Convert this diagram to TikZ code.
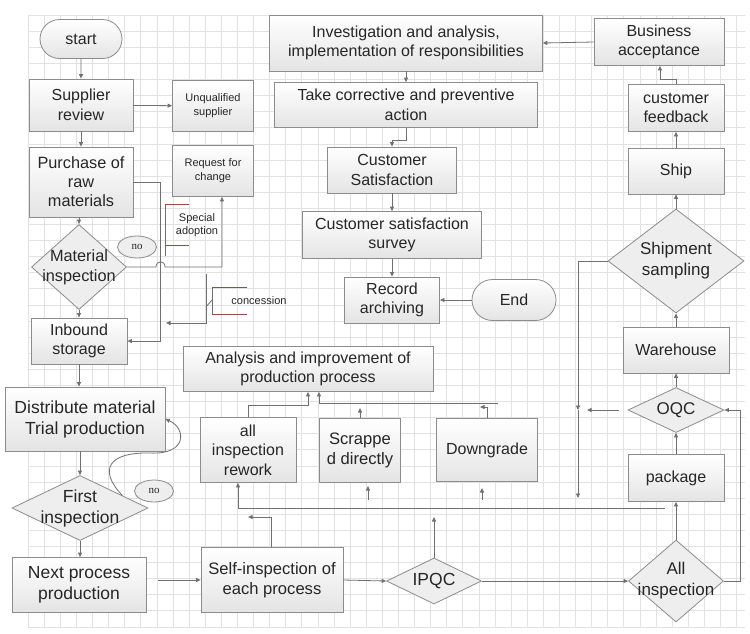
\documentclass[tikz,border=0pt]{standalone}
\usepackage{fontspec}
\setmainfont{Liberation Sans}
\newfontfamily\serifno{Liberation Serif}
\usetikzlibrary{shapes.geometric,shapes.misc,arrows.meta,calc}
\definecolor{gridc}{HTML}{E2E2E2}
\definecolor{bordc}{HTML}{8C8C8C}
\definecolor{boxbot}{HTML}{E4E4E4}
\definecolor{diafill}{HTML}{EEEEEE}
\definecolor{linec}{HTML}{707070}
\definecolor{txtc}{HTML}{262626}
\definecolor{brkc}{HTML}{9A4848}
\begin{document}
\begin{tikzpicture}[x=1pt,y=-1pt,
  sz/.style 2 args={minimum width=#1pt,minimum height=#2pt},
  gridl/.style={draw=gridc,line width=0.6pt},
  box/.style={draw=bordc,line width=0.8pt,top color=white,bottom color=boxbot,
    inner sep=0pt,align=center,text=txtc,font=\fontsize{16}{19.5}\selectfont},
  smallbox/.style={box,font=\fontsize{11}{14}\selectfont},
  bigtxt/.style={font=\fontsize{17.5}{21}\selectfont},
  term/.style={rounded rectangle,draw=bordc,line width=0.8pt,top color=white,bottom color=boxbot,
    inner sep=0pt,text=txtc,font=\fontsize{16}{19.5}\selectfont},
  dia/.style={diamond,draw=bordc,line width=0.8pt,fill=diafill,inner sep=0pt},
  dtxt/.style={align=center,text=txtc,inner sep=0pt,font=\fontsize{17}{21}\selectfont},
  noell/.style={ellipse,draw=bordc,line width=0.8pt,fill=diafill,inner sep=0pt,
    minimum width=39pt,minimum height=22pt,text=txtc,font=\serifno\fontsize{11}{12}\selectfont},
  note/.style={align=center,text=txtc,inner sep=0pt,font=\fontsize{11}{13.5}\selectfont},
  ln/.style={draw=linec,line width=0.8pt},
  arr/.style={ln,-{Triangle[length=4.5pt,width=4pt]}},
  brk/.style={draw=brkc,line width=0.8pt}
]
\useasboundingbox (0,0) rectangle (750,633);
\fill[white] (0,0) rectangle (750,633);
% grid
\foreach \i in {0,...,44} { \draw[gridl] ({28+16.1*\i},15) -- ({28+16.1*\i},627); }
\foreach \j in {0,...,38} { \draw[gridl] (28,{15+16.1*\j}) -- (745,{15+16.1*\j}); }

% left column
\node[term,sz={82}{39}] (start) at (81,39) {start};
\node[box,sz={104}{52}] (sr) at (81,105) {Supplier\\review};
\node[smallbox,sz={81}{51}] (uq) at (213,106) {Unqualified\\supplier};
\node[box,sz={104}{70},font=\fontsize{16.3}{19}\selectfont] (pr) at (81,182) {Purchase of\\raw\\materials};
\node[smallbox,sz={81}{51}] (rc) at (213,171) {Request for\\change};
\node[dia,sz={95}{85}] (mi) at (79,267) {};
\node[dtxt,font=\fontsize{16.3}{20}\selectfont] (mit) at (mi) {Material\\inspection};
\node[noell] (no1) at (137,247) {no};
\node[note] (sa) at (197,225) {Special\\adoption};
\node[note] (cc) at (259,301) {concession};
\node[box,sz={96}{46}] (is) at (79,341) {Inbound\\storage};
\node[box,bigtxt,sz={160}{64}] (dt) at (85,419) {Distribute material\\Trial production};
\node[dia,sz={136}{65}] (fi) at (80,508) {};
\node[dtxt,font=\fontsize{17.5}{21}\selectfont] (fit) at (fi) {First\\inspection};
\node[noell] (no2) at (154,491) {no};
\node[box,bigtxt,sz={134}{55}] (np) at (79,585) {Next process\\production};

% bottom row
\node[box,font=\fontsize{16.6}{20}\selectfont,sz={142}{65}] (si) at (272,580) {Self-inspection of\\each process};
\node[dia,sz={95}{46}] (ipqc) at (434,581) {};
\node[dtxt,font=\fontsize{17.5}{21}\selectfont] (ipqct) at (ipqc) {IPQC};
\node[dia,sz={95}{82}] (ai) at (676,581) {};
\node[dtxt] (ait) at (ai) {All\\inspection};

% middle
\node[box,sz={250}{45}] (an) at (308,369) {Analysis and improvement of\\production process};
\node[box,sz={96}{65}] (ar) at (248,450) {all\\inspection\\rework};
\node[box,font=\fontsize{16.6}{20}\selectfont,sz={81}{64}] (sd) at (360,450) {Scrappe\\d directly};
\node[box,sz={101}{63}] (dg) at (487,450) {Downgrade};

% right column
\node[box,sz={96}{47}] (pk) at (676,478) {package};
\node[dia,sz={96}{45}] (oqc) at (676,410) {};
\node[dtxt] (oqct) at (oqc) {OQC};
\node[box,sz={106}{46}] (wh) at (676,350) {Warehouse};
\node[dia,sz={136}{104}] (ss) at (676,261) {};
\node[dtxt] (sst) at (ss) {Shipment\\sampling};
\node[box,sz={96}{46}] (ship) at (676,171) {Ship};
\node[box,sz={96}{47}] (cf) at (676,108) {customer\\feedback};
\node[box,sz={130}{47}] (ba) at (659,42) {Business\\acceptance};

% top middle
\node[box,sz={273}{56}] (inv) at (406,43) {Investigation and analysis,\\implementation of responsibilities};
\node[box,sz={263}{45}] (tc) at (406,105) {Take corrective and preventive\\action};
\node[box,sz={129}{46}] (cs) at (392,170) {Customer\\Satisfaction};
\node[box,sz={179}{47}] (sv) at (392,235) {Customer satisfaction\\survey};
\node[box,sz={95}{46}] (ra) at (392,300) {Record\\archiving};
\node[term,sz={84}{41}] (end) at (514,300) {End};

% coordinates
\coordinate (h1) at (156,267);
\coordinate (h2) at (165,267);
\coordinate (w1) at (222,267);
\coordinate (p1) at (160,182);
\coordinate (c1) at (206,274);
\coordinate (c2) at (206,323);
\coordinate (c3) at (166,323);
\coordinate (n1) at (158,580);
\coordinate (s1) at (271,517);
\coordinate (s2) at (248,517);
\coordinate (q1) at (434,517);
\coordinate (a1) at (740,581);
\coordinate (o1) at (619,410);
\coordinate (o2) at (587,410);
\coordinate (v1) at (578,410);
\coordinate (v2) at (578,498);
\coordinate (b1) at (665,508);
\coordinate (b2) at (238,508);
\coordinate (u1) at (368,500);
\coordinate (u2) at (368,486);
\coordinate (u3) at (482,500);
\coordinate (u4) at (482,488);
\coordinate (r1) at (308,405);
\coordinate (g1) at (498,403);
\coordinate (g2) at (319,403);
\coordinate (d1) at (360,408);
\coordinate (k1) at (480,407);
\coordinate (f1) at (660,79);
\coordinate (t1) at (392,140);
\coordinate (fp) at ($(fi.north)!0.62!(fi.east)$);

% connectors left
\draw[arr] (start) -- (sr);
\draw[arr] (sr) -- (uq);
\draw[arr] (sr) -- (pr);
\draw[arr] (mi.north |- pr.south) -- (mi.north);
\draw[arr] (mi.south) -- (is);
\draw[arr] (mi.east) -- (h1) .. controls +(0,-7) and +(0,-7) .. (h2) -- (w1) -- (w1 |- rc.south);
\draw[arr] (pr.east) -- (p1) |- (is.east);
\draw[arr] (c1) -- (c2) -- (c3);
\draw[ln] (206,307) -- (212,300);
\draw[ln] (212,287) -- (212,314);
\draw[brk] (247,287) -- (212,287);
\draw[brk] (247,314) -- (212,314);
\draw[ln] (165,204) -- (165,256);
\draw[brk] (189,204) -- (165,204);
\draw[brk] (189,245) -- (165,245);
\draw[arr] (is.south) -- (is.south |- dt.north);
\draw[arr] (fi.north |- dt.south) -- (fi.north);
\draw[arr] (fp) .. controls (98,470) and (108,452) .. (150,453) .. controls (188,455) and (186,428) .. (dt.east);
\draw[arr] (fi.south) -- (fi.south |- np.north);
\draw[arr] (n1) -- (si.west);

% bottom
\draw[arr] (si.north -| s1) -- (s1) -- (s2);
\draw[arr] (si.east) -- (ipqc.west);
\draw[arr] (ipqc.north) -- (q1);
\draw[arr] (ipqc.east) -- (ai.west);
\draw[arr] (ai.north) -- (pk.south);
\draw[arr] (ai.east) -- (a1) |- (oqc.east);
\draw[arr] (pk.north) -- (oqc.south);
\draw[arr] (o1) -- (o2);
\draw[arr] (oqc.north) -- (wh.south);
\draw[arr] (wh.north) -- (ss.south);
\draw[arr] (ss.north) -- (ship.south);
\draw[arr] (ship.north) -- (cf.south);
\draw[arr] (cf.north) |- (f1) -- (f1 |- ba.south);
\draw[arr] (ba.west) -- (inv.east);
\draw[arr] (inv.south) -- (tc.north);
\draw[arr] (tc.south) |- (t1) -- (cs.north);
\draw[arr] (cs) -- (sv);
\draw[arr] (sv) -- (ra);
\draw[arr] (end) -- (ra);
\draw[arr] (ss.west) -| (v1);
\draw[arr] (v1) -- (v2);

% middle
\draw[arr] (b1) -- (b2) -- (b2 |- ar.south);
\draw[arr] (u1) -- (u2);
\draw[arr] (u3) -- (u4);
\draw[arr] (ar.north) |- (r1) -- (r1 |- an.south);
\draw[arr] (g1) -- (g2) -- (g2 |- an.south);
\draw[arr] (sd.north) -- (d1);
\draw[arr] (dg.north) |- (k1);
\end{tikzpicture}
\end{document}
